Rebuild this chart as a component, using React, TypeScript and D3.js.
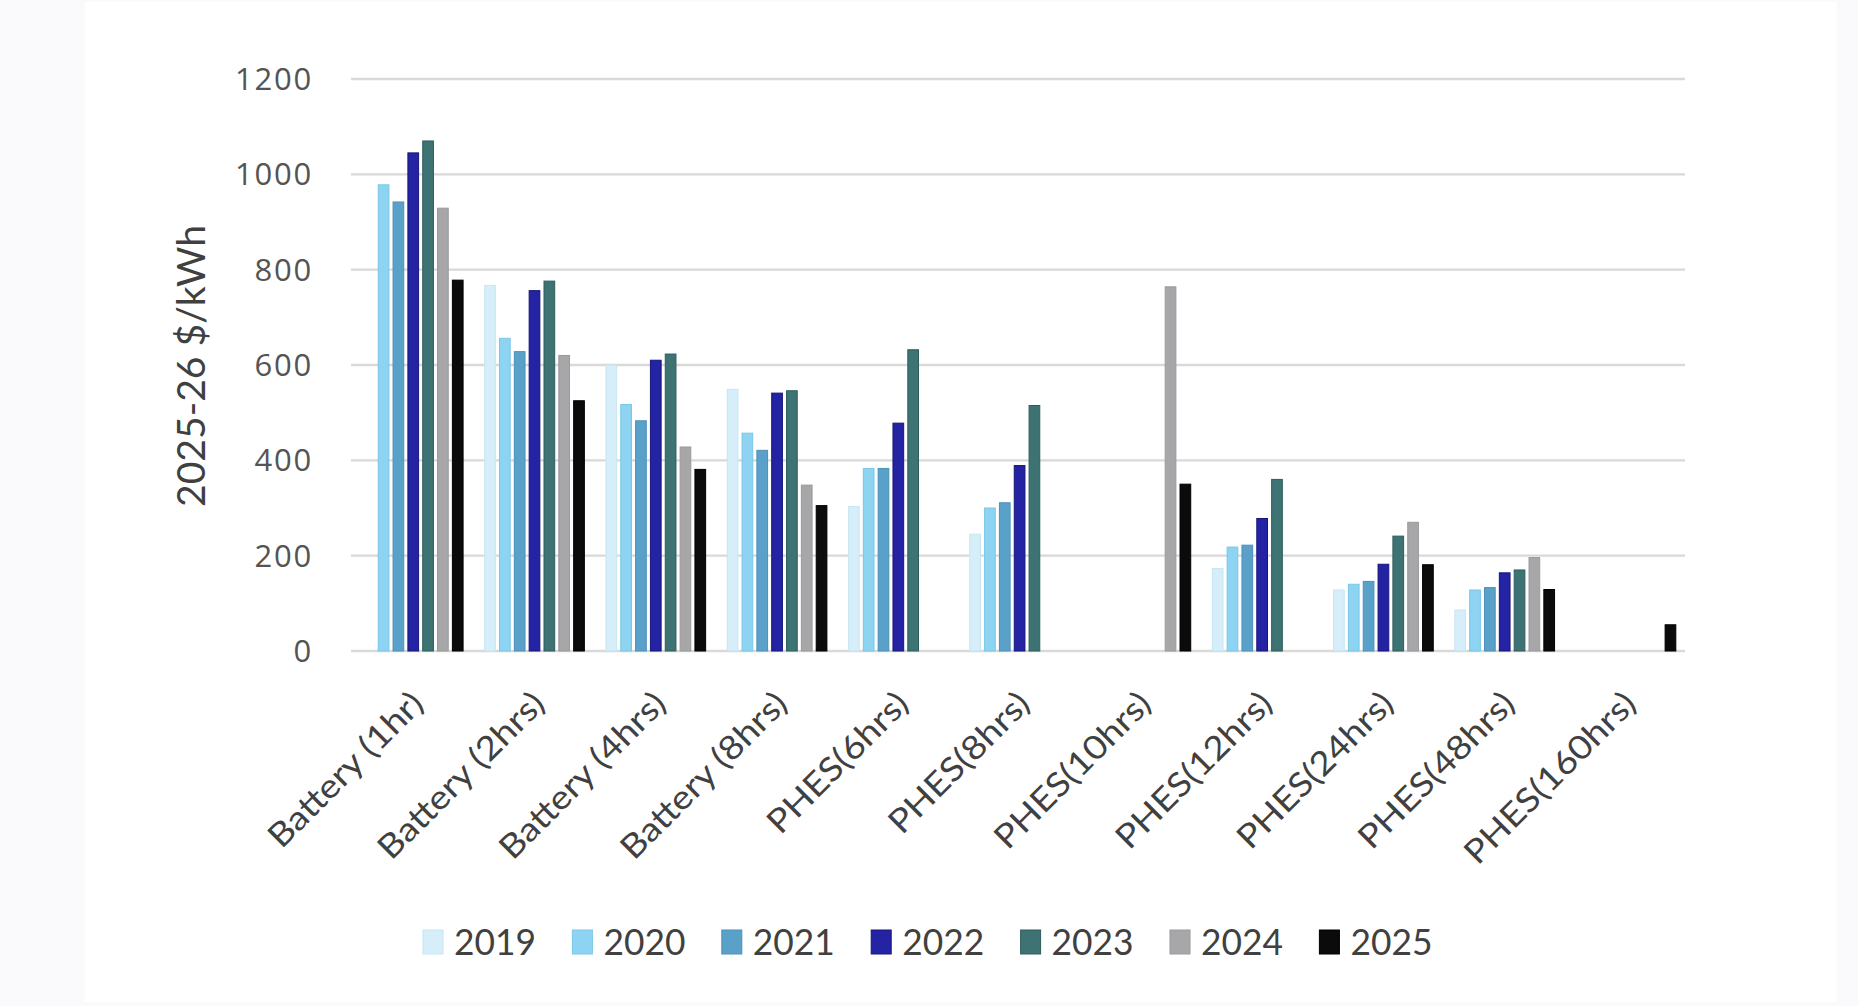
import React from "react";
import * as d3 from "d3";

const categories = [
  "Battery (1hr)",
  "Battery (2hrs)",
  "Battery (4hrs)",
  "Battery (8hrs)",
  "PHES(6hrs)",
  "PHES(8hrs)",
  "PHES(10hrs)",
  "PHES(12hrs)",
  "PHES(24hrs)",
  "PHES(48hrs)",
  "PHES(160hrs)",
];

const years = ["2019", "2020", "2021", "2022", "2023", "2024", "2025"];

const v2019 = [null, 767, 600, 549, 303, 245, null, 173, 128, 86, null];
const v2020 = [978, 656, 517, 457, 383, 300, null, 218, 140, 128, null];
const v2021 = [942, 628, 483, 421, 383, 311, null, 222, 146, 133, null];
const v2022 = [1045, 756, 610, 541, 478, 389, null, 278, 182, 164, null];
const v2023 = [1070, 776, 623, 546, 632, 515, null, 360, 241, 170, null];
const v2024 = [929, 620, 428, 348, null, null, 764, null, 270, 196, null];
const v2025 = [778, 525, 381, 305, null, null, 350, null, 181, 129, 55];

const seriesValues: (number | null)[][] = [v2019, v2020, v2021, v2022, v2023, v2024, v2025];

const yTicks = [0, 200, 400, 600, 800, 1000, 1200];

const fills = ["#d5eef9", "#8dd4f2", "#5aa1c9", "#2323a4", "#3e7373", "#a7a7a9", "#0b0b0b"];
const strokes = ["#c8e6f2", "#7cc6e6", "#4d90b8", "#16167a", "#2f5c5c", "#9a9a9c", "#000000"];

const W = 1858;
const H = 1006;
const plotLeft = 351;
const plotRight = 1685;
const plotTop = 79;
const plotBottom = 651;

export default function App() {
  const x = d3.scaleBand<string>().domain(categories).range([plotLeft, plotRight]).padding(0);
  const y = d3.scaleLinear().domain([0, 1200]).range([plotBottom, plotTop]);
  const step = 14.3;
  const barW = 10.7;
  const groupW = step * (years.length - 1) + barW;
  const inner = d3
    .scaleBand<string>()
    .domain(years)
    .range([0, groupW + (step - barW)])
    .paddingInner((step - barW) / step)
    .paddingOuter(0);

  const legendX0 = 423;
  const legendStep = 149.4;
  const legendY = 942;

  return (
    <svg
      width={W}
      height={H}
      style={{ position: "fixed", left: 0, top: 0, display: "block" }}
    >
      <rect x={0} y={0} width={W} height={H} fill="#fafafd" />
      <rect x={85} y={2} width={1752} height={1000} fill="#ffffff" />

      {yTicks.map((t) => (
        <g key={t}>
          <line
            x1={plotLeft}
            x2={plotRight}
            y1={y(t)}
            y2={y(t)}
            stroke="#d9d9d9"
            strokeWidth={2.4}
          />
          <text
            x={313}
            y={y(t)}
            dy="0.36em"
            textAnchor="end"
            fontFamily="'Open Sans', sans-serif"
            fontSize={31}
            letterSpacing={1.8}
            fill="#545454"
          >
            {t}
          </text>
        </g>
      ))}

      {seriesValues.map((vals, si) =>
        categories.map((c, ci) => {
          const v = vals[ci];
          if (v == null) return null;
          const bx = (x(c) as number) + x.bandwidth() / 2 - groupW / 2 + (inner(years[si]) as number);
          return (
            <rect
              key={`${si}-${ci}`}
              x={bx}
              y={y(v)}
              width={barW}
              height={y(0) - y(v)}
              fill={fills[si]}
              stroke={strokes[si]}
              strokeWidth={1}
            />
          );
        })
      )}

      {categories.map((c) => {
        const cx = (x(c) as number) + x.bandwidth() / 2;
        return (
          <text
            key={c}
            transform={`translate(${cx - 3},${689}) rotate(-45) scale(1.13,1)`}
            textAnchor="end"
            dy="0.72em"
            fontFamily="Lato, sans-serif"
            fontSize={33}
            fill="#404040"
          >
            {c}
          </text>
        );
      })}

      <text
        transform={`translate(205,366) rotate(-90)`}
        textAnchor="middle"
        fontFamily="Lato, sans-serif"
        fontSize={38}
        textLength={282}
        lengthAdjust="spacingAndGlyphs"
        fill="#404040"
      >
        2025-26 $/kWh
      </text>

      {years.map((yr, i) => {
        const lx = legendX0 + i * legendStep;
        return (
          <g key={yr}>
            <rect x={lx} y={legendY - 12} width={20} height={24} fill={fills[i]} stroke={strokes[i]} strokeWidth={1} />
            <text
              x={lx + 31}
              y={legendY}
              dy="0.36em"
              fontFamily="Lato, sans-serif"
              fontSize={37}
              textLength={82}
              lengthAdjust="spacingAndGlyphs"
              fill="#404040"
            >
              {yr}
            </text>
          </g>
        );
      })}
    </svg>
  );
}
